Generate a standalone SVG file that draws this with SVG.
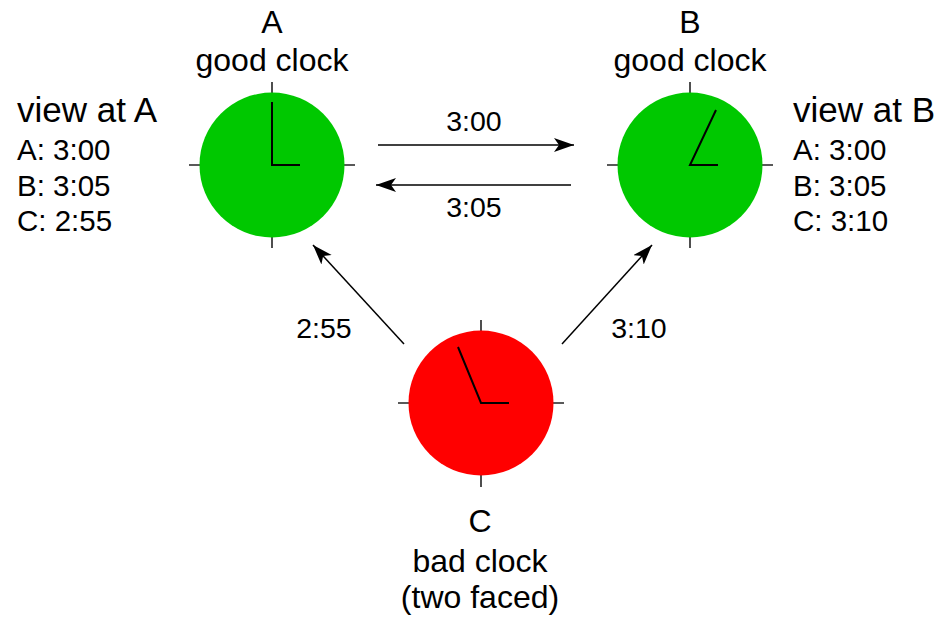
<svg xmlns="http://www.w3.org/2000/svg" width="948" height="619" viewBox="0 0 948 619">
<style>
text{font-family:"Liberation Sans",Arial,sans-serif;fill:#000;}
.lbl{font-size:32px;text-anchor:middle;}
.view{font-size:35px;}
.item{font-size:29.5px;}
.t{font-size:28.5px;text-anchor:middle;}
.tick{stroke:#222;stroke-width:1.6;}
.hand{stroke:#000;stroke-width:2;fill:none;}
.good{fill:#00c800;}
.bad{fill:#ff0000;}
.conn{stroke:#000;stroke-width:1.5;fill:none;marker-end:url(#arr);}
</style>
<defs>
<marker id="arr" markerUnits="userSpaceOnUse" markerWidth="22" markerHeight="16" refX="20" refY="7" orient="auto">
<path d="M0,0 L20,7 L0,14 L5,7 z" fill="#000"/>
</marker>
</defs>
<g id="clockA">
<line class="tick" x1="272" y1="82" x2="272" y2="248"/>
<line class="tick" x1="189" y1="165" x2="355" y2="165"/>
<circle class="good" cx="272" cy="165" r="72.5"/>
<path class="hand" d="M272,102 L272,165 L300,165"/>
<text class="lbl" x="272" y="33">A</text>
<text class="lbl" x="272" y="71">good clock</text>
</g>
<g id="clockB">
<line class="tick" x1="690" y1="82" x2="690" y2="248"/>
<line class="tick" x1="607" y1="165" x2="773" y2="165"/>
<circle class="good" cx="690" cy="165" r="72.5"/>
<path class="hand" d="M716,110 L690,165 L718,165"/>
<text class="lbl" x="690" y="33">B</text>
<text class="lbl" x="690" y="71">good clock</text>
</g>
<g id="clockC">
<line class="tick" x1="481" y1="320" x2="481" y2="487"/>
<line class="tick" x1="398" y1="403" x2="564" y2="403"/>
<circle class="bad" cx="481" cy="403" r="72.5"/>
<path class="hand" d="M458,347 L481,403 L509,403"/>
<text class="lbl" x="480" y="532">C</text>
<text class="lbl" x="480" y="572">bad clock</text>
<text class="lbl" x="480" y="608">(two faced)</text>
</g>
<g id="viewA">
<text class="view" x="17" y="122">view at A</text>
<text class="item" x="17" y="160">A: 3:00</text>
<text class="item" x="17" y="196">B: 3:05</text>
<text class="item" x="17" y="231">C: 2:55</text>
</g>
<g id="viewB">
<text class="view" x="793" y="122">view at B</text>
<text class="item" x="793" y="160">A: 3:00</text>
<text class="item" x="793" y="196">B: 3:05</text>
<text class="item" x="793" y="231">C: 3:10</text>
</g>
<g id="connectors">
<line class="conn" x1="378" y1="145" x2="574" y2="145"/>
<line class="conn" x1="571" y1="185" x2="376" y2="185"/>
<line class="conn" x1="404" y1="344" x2="313" y2="245"/>
<line class="conn" x1="562" y1="344" x2="652" y2="245"/>
<text class="t" x="474" y="131">3:00</text>
<text class="t" x="474" y="217">3:05</text>
<text class="t" x="324" y="338">2:55</text>
<text class="t" x="639" y="338">3:10</text>
</g>
</svg>
